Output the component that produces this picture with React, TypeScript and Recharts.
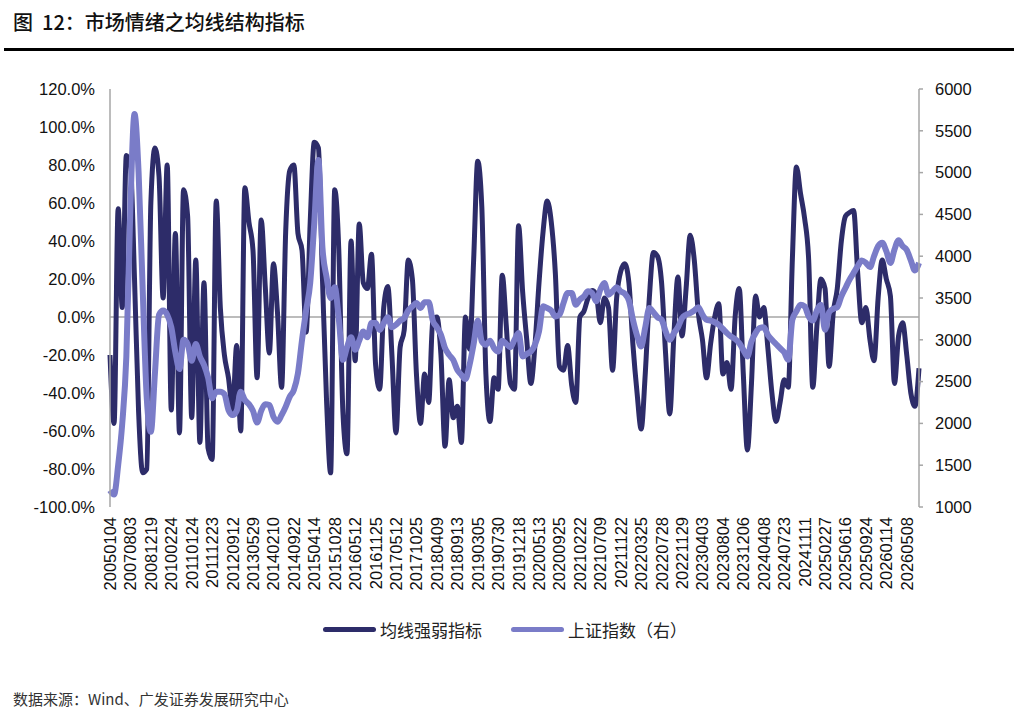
import React from 'react';
import {
  LineChart,
  Line,
  XAxis,
  YAxis,
  ReferenceLine,
} from 'recharts';

// 横轴标签（每 5 个数据点一个）
const dateLabels = [
  '20050104', '20070803', '20081219', '20100224', '20110124', '20111223',
  '20120912', '20130529', '20140210', '20140922', '20150414', '20151028',
  '20160512', '20161125', '20170512', '20171025', '20180409', '20180913',
  '20190305', '20190730', '20191218', '20200513', '20200925', '20210222',
  '20210709', '20211122', '20220325', '20220728', '20221129', '20230403',
  '20230804', '20231206', '20240408', '20240723', '20241111', '20250227',
  '20250616', '20250924', '20260114', '20260508',
];

// 均线强弱指标（%）
const strength = [
  -20, -56, 57, 5, 85, 80, 20, -50, -82, -80,
  60, 89, 74, 10, 80, -49, 44, -61, 67, 53,
  -53, 30, -66, 18, -69, -75, 61, 5, -20, -32,
  -49, -15, -60, 68, 50, 35, -32, 51, 16, -19,
  28, 2, -37, 45, 77, 80, 44, 35, -8, 50,
  92, 89, 20, -44, -82, 67, 35, -50, -72, 40,
  -23, 49, 18, 15, 33, -25, -38, 5, 16, -20,
  -61, -16, -7, 30, 20, -30, -56, -30, -45, -2,
  0, -20, -68, -33, -53, -47, -66, 0, -17, 30,
  82, 58, -30, -55, -32, -38, 22, -5, -35, -38,
  48, 13, -12, -35, -15, 18, 45, 61, 50, 23,
  -26, -28, -15, -36, -45, 0, 3, 10, 14, 12,
  -3, 10, 5, -28, 10, 24, 28, 18, -15, -40,
  -59, -30, 10, 34, 32, 18, -20, -51, -10, 21,
  -10, 15, 43, 30, 2, -12, -32, -14, 0, 7,
  -30, -24, -38, 0, 15, -30, -70, -35, 11, 0,
  5, -16, -40, -55, -45, -33, -37, 30, 79, 65,
  52, 30, -37, -5, 20, 15, -26, 2, 15, 40,
  53, 55, 56, 23, -3, 5, -12, -23, 10, 30,
  20, 11, -35, -10, -3, -20, -40, -47, -27,
];

// 上证指数（右轴）
const shIndex = [
  1200, 1150, 1500, 2000, 2800, 4600, 5700, 5000, 3600, 2300,
  1900, 2600, 3300, 3350, 3300, 3150, 2850, 2650, 3000, 2950,
  2750, 2950, 2800, 2700, 2550, 2300, 2380, 2380, 2350, 2160,
  2100, 2150, 2380, 2280, 2230, 2150, 2010, 2150, 2230, 2220,
  2080, 2020, 2100, 2200, 2320, 2400, 2600, 3000, 3350, 3680,
  4400, 5150, 4100, 3750, 3500, 3630, 3250, 2760, 2910, 3030,
  2880, 2990, 3100, 3030, 3200, 3200, 3118, 3200, 3270, 3150,
  3180, 3230, 3260, 3350, 3400, 3440, 3380, 3450, 3450, 3230,
  3150, 3060, 2900, 2820, 2760, 2640, 2580, 2530, 2700, 2950,
  3230, 2980, 2940, 2990, 2900, 2860, 2990, 2950, 2910, 3000,
  3080, 2800, 2830, 2860, 2940, 3100, 3400, 3380, 3350, 3280,
  3300, 3440, 3560, 3560, 3420, 3480, 3520, 3580, 3560, 3460,
  3600, 3680, 3540, 3580, 3630, 3580, 3550, 3470, 3237, 3050,
  2920, 3150, 3380, 3330, 3270, 3240, 3100, 3000, 3080, 3150,
  3260, 3300, 3320, 3350, 3390, 3300, 3240, 3230, 3210, 3180,
  3130, 3080, 3040, 3010, 2960, 2880, 2800, 2980, 3080, 3140,
  3150, 3060, 3000, 2950, 2900, 2850, 2760, 3240, 3340, 3420,
  3400, 3280, 3230, 3350, 3420, 3120, 3330, 3370, 3390, 3520,
  3620, 3720, 3800, 3880, 3950, 3920, 3870, 4000, 4120, 4160,
  4060, 3920, 4080, 4190, 4120, 4075, 3950, 3830, 3920,
];

const leftTicks = [-100, -80, -60, -40, -20, 0, 20, 40, 60, 80, 100, 120];
const rightTicks = [1000, 1500, 2000, 2500, 3000, 3500, 4000, 4500, 5000, 5500, 6000];

const STRENGTH_NAME = '均线强弱指标';
const INDEX_NAME = '上证指数（右）';
const DARK = '#2d2c69';
const LIGHT = '#7a7cc8';
const AXIS_GREY = '#a6a6a6';
const LATIN = '"Liberation Sans", Arial, "Noto Sans CJK SC", sans-serif';

const chartData = strength.map((v, i) => ({ i, strength: v, sh: shIndex[i] }));
const xTicks = dateLabels.map((_, k) => k * 5);

interface TickProps {
  x?: number;
  y?: number;
  payload?: { value: number };
}

const DateTick = ({ x = 0, y = 0, payload }: TickProps) => {
  const label = payload ? dateLabels[Math.round(payload.value / 5)] : '';
  return (
    <g transform={`translate(${x},${y})`}>
      <text
        transform="rotate(-90)"
        textAnchor="end"
        dy="0.36em"
        fontSize={16.5}
        fill="#111"
        fontFamily={LATIN}
      >
        {label}
      </text>
    </g>
  );
};

const LegendItem = ({ color, name }: { color: string; name: string }) => (
  <div style={{ display: 'flex', alignItems: 'center', marginRight: 29 }}>
    <div style={{ width: 53, height: 5, borderRadius: 3, background: color }} />
    <span style={{ marginLeft: 4, fontSize: 17, color: '#222' }}>{name}</span>
  </div>
);

const App = () => {
  return (
    <div
      style={{
        position: 'relative',
        width: 1020,
        height: 720,
        background: '#fff',
        fontFamily: '"Noto Sans CJK SC", "Liberation Sans", sans-serif',
        overflow: 'hidden',
      }}
    >
      <style>{'body{margin:0}'}</style>

      <div
        style={{
          position: 'absolute',
          left: 13,
          top: 8,
          fontSize: 20,
          lineHeight: '28px',
          fontWeight: 500,
          color: '#111',
          whiteSpace: 'nowrap',
        }}
      >
        图&nbsp;&nbsp;12：市场情绪之均线结构指标
      </div>
      <div
        style={{
          position: 'absolute',
          left: 4,
          top: 48,
          width: 1010,
          height: 2.5,
          background: '#000',
        }}
      />

      <div style={{ position: 'absolute', left: 0, top: 0 }}>
        <LineChart
          width={1020}
          height={720}
          data={chartData}
          margin={{ top: 89, right: 40, bottom: 113, left: 50 }}
        >
          <XAxis
            dataKey="i"
            type="number"
            domain={[0, strength.length - 1]}
            ticks={xTicks}
            interval={0}
            axisLine={false}
            tickLine={false}
            tickSize={0}
            tickMargin={10}
            height={100}
            tick={<DateTick />}
          />
          <YAxis
            yAxisId="left"
            domain={[-100, 120]}
            ticks={leftTicks}
            interval={0}
            width={60}
            axisLine={{ stroke: AXIS_GREY, strokeWidth: 1.5 }}
            tickLine={false}
            tickSize={6}
            tickMargin={9}
            tickFormatter={(v: number) => `${v.toFixed(1)}%`}
            tick={{ fontSize: 16.5, fill: '#111', fontFamily: LATIN }}
          />
          <YAxis
            yAxisId="right"
            orientation="right"
            domain={[1000, 6000]}
            ticks={rightTicks}
            interval={0}
            width={61}
            axisLine={{ stroke: AXIS_GREY, strokeWidth: 1.5 }}
            tickLine={{ stroke: AXIS_GREY, strokeWidth: 1.5 }}
            tickSize={4}
            tickMargin={12}
            tick={{ fontSize: 16.5, fill: '#111', fontFamily: LATIN, textAnchor: 'start' }}
          />
          <ReferenceLine yAxisId="left" y={0} stroke={AXIS_GREY} strokeWidth={1.5} />
          <Line
            yAxisId="left"
            dataKey="strength"
            name={STRENGTH_NAME}
            type="monotone"
            stroke={DARK}
            strokeWidth={5}
            dot={false}
            isAnimationActive={false}
          />
          <Line
            yAxisId="right"
            dataKey="sh"
            name={INDEX_NAME}
            type="monotone"
            stroke={LIGHT}
            strokeWidth={6}
            dot={false}
            isAnimationActive={false}
          />
        </LineChart>
      </div>

      <div
        style={{
          position: 'absolute',
          left: 323,
          top: 616,
          display: 'flex',
          alignItems: 'center',
          height: 26,
        }}
      >
        <LegendItem color={DARK} name={STRENGTH_NAME} />
        <LegendItem color={LIGHT} name={INDEX_NAME} />
      </div>

      <div
        style={{
          position: 'absolute',
          left: 13,
          top: 688,
          fontSize: 15,
          color: '#333',
          whiteSpace: 'nowrap',
        }}
      >
        数据来源：Wind、广发证券发展研究中心
      </div>
    </div>
  );
};

export default App;
